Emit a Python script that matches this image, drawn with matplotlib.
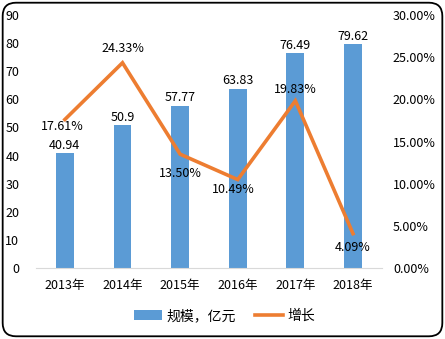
import matplotlib.pyplot as plt
from matplotlib.patches import FancyBboxPatch

plt.rcParams['font.family'] = ['Noto Sans CJK SC', 'DejaVu Sans']

years = ['2013年', '2014年', '2015年', '2016年', '2017年', '2018年']
scale = [40.94, 50.9, 57.77, 63.83, 76.49, 79.62]
growth = [17.61, 24.33, 13.50, 10.49, 19.83, 4.09]
growth_labels = ['17.61%', '24.33%', '13.50%', '10.49%', '19.83%', '4.09%']

# label offsets (points) for the line labels
label_offsets = [(-2, -5), (0, 10), (0, -14), (-3, -7), (0, 8), (0, -10)]

blue = '#5B9BD5'
orange = '#ED7D31'

fig = plt.figure(figsize=(4.45, 3.39), dpi=100)
ax = fig.add_axes([0.081, 0.209, 0.777, 0.747])
x = range(len(years))

bars = ax.bar(x, scale, width=0.31, color=blue, label='规模，亿元')
ax.bar_label(bars, labels=[f'{v:g}' for v in scale], padding=1, fontsize=9)
ax.set_ylim(0, 90)
ax.set_yticks(range(0, 91, 10))
ax.set_xlim(-0.5, 5.5)
ax.set_xticks(list(x))
ax.set_xticklabels(years)

ax2 = ax.twinx()
ax2.plot(list(x), growth, color=orange, lw=2.6, label='增长', solid_joinstyle='miter')
ax2.set_ylim(0, 30)
ax2.set_yticks(range(0, 31, 5))
ax2.set_yticklabels([f'{v:.2f}%' for v in range(0, 31, 5)])
for i, (g, t) in enumerate(zip(growth, growth_labels)):
    ax2.annotate(t, (i, g), xytext=label_offsets[i], textcoords='offset points',
                 ha='center', va='center', fontsize=9)

for a in (ax, ax2):
    for s in a.spines.values():
        s.set_visible(False)
    a.tick_params(length=0, labelsize=9, colors='#000000')
ax.spines['bottom'].set_visible(True)
ax.spines['bottom'].set_color('#D9D9D9')
ax.tick_params(axis='x', pad=8)
ax.tick_params(axis='y', pad=12)
ax2.tick_params(axis='y', pad=8)

h1, l1 = ax.get_legend_handles_labels()
h2, l2 = ax2.get_legend_handles_labels()
fig.legend(h1 + h2, l1 + l2, loc='center', bbox_to_anchor=(0.505, 0.068), ncol=2,
           frameon=False, fontsize=10, handlelength=2.0, columnspacing=1.4,
           handletextpad=0.3)

border = FancyBboxPatch((0.006, 0.008), 0.988, 0.984, boxstyle='round,pad=0,rounding_size=0.03',
                        transform=fig.transFigure, fill=False, edgecolor='black', lw=1.3,
                        mutation_aspect=445 / 339)
fig.patches.append(border)

fig.savefig('out.png', dpi=100)
